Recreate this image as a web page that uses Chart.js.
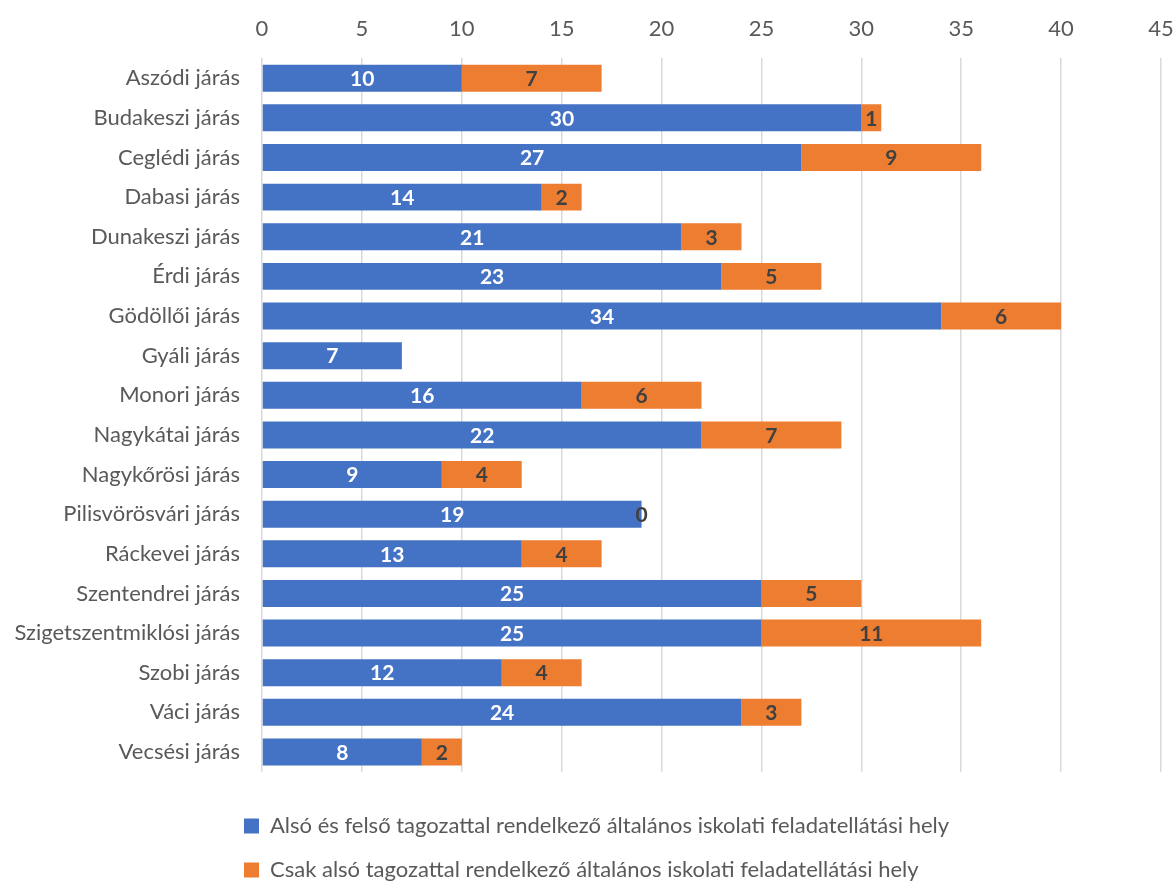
<!DOCTYPE html>
<html>
<head>
<meta charset="utf-8">
<script src="https://cdn.jsdelivr.net/npm/chart.js@4"></script>
<style>
  html, body { margin: 0; padding: 0; background: #fff; }
  #wrap { width: 1176px; height: 881px; }
</style>
</head>
<body>
<div id="wrap"><canvas id="myChart" width="1176" height="881"></canvas></div>
<script>
const jarasok = ['Aszódi járás', 'Budakeszi járás', 'Ceglédi járás', 'Dabasi járás', 'Dunakeszi járás',
  'Érdi járás', 'Gödöllői járás', 'Gyáli járás', 'Monori járás', 'Nagykátai járás', 'Nagykőrösi járás',
  'Pilisvörösvári járás', 'Ráckevei járás', 'Szentendrei járás', 'Szigetszentmiklósi járás',
  'Szobi járás', 'Váci járás', 'Vecsési járás'];
const alsoFelso = [10, 30, 27, 14, 21, 23, 34, 7, 16, 22, 9, 19, 13, 25, 25, 12, 24, 8];
const csakAlso = [7, 1, 9, 2, 3, 5, 6, null, 6, 7, 4, 0, 4, 5, 11, 4, 3, 2];
const tickek = [0, 5, 10, 15, 20, 25, 30, 35, 40, 45];

const fontCsalad = 'Lato, "Open Sans", sans-serif';

// ertekek kiirasa a savok kozepere
const cimkek = {
  id: 'cimkek',
  afterDatasetsDraw(chart) {
    const ctx = chart.ctx;
    ctx.save();
    ctx.font = 'bold 21px ' + fontCsalad;
    ctx.textAlign = 'center';
    ctx.textBaseline = 'middle';
    chart.data.datasets.forEach((ds, i) => {
      const meta = chart.getDatasetMeta(i);
      meta.data.forEach((bar, j) => {
        const v = ds.data[j];
        if (v === null || v === undefined) return;
        const x = (bar.x + bar.base) / 2;
        ctx.fillStyle = i === 0 ? '#ffffff' : '#404040';
        ctx.fillText(String(v), x, bar.y + 1);
      });
    });
    ctx.restore();
  }
};

// a jelmagyarazat sorai egy vonalban kezdodjenek
const legendBal = {
  id: 'legendBal',
  afterLayout(chart) {
    chart.legend.left = 222;
  }
};

const ctx = document.getElementById('myChart');
new Chart(ctx, {
  type: 'bar',
  data: {
    labels: jarasok,
    datasets: [{
      label: 'Alsó és felső tagozattal rendelkező általános iskolati feladatellátási hely',
      data: alsoFelso,
      backgroundColor: '#4472C4',
      barPercentage: 0.68,
      categoryPercentage: 1
    }, {
      label: 'Csak alsó tagozattal rendelkező általános iskolati feladatellátási hely',
      data: csakAlso,
      backgroundColor: '#ED7D31',
      barPercentage: 0.68,
      categoryPercentage: 1
    }]
  },
  options: {
    indexAxis: 'y',
    responsive: false,
    animation: false,
    layout: { padding: { left: 0, right: 15, top: 0, bottom: -10 } },
    scales: {
      x: {
        position: 'top',
        stacked: true,
        min: 0,
        max: 45,
        afterBuildTicks: axis => { axis.ticks = tickek.map(v => ({ value: v })); },
        afterFit: axis => { axis.paddingLeft = 0; axis.paddingRight = 0; },
        grid: { color: '#D9D9D9', lineWidth: 1.5, drawTicks: false },
        border: { display: false },
        ticks: { color: '#595959', font: { family: fontCsalad, size: 22 }, padding: 16 }
      },
      y: {
        stacked: true,
        grid: { display: false },
        border: { display: false },
        afterFit: axis => { axis.width = 262; },
        ticks: { color: '#595959', font: { family: fontCsalad, size: 22 }, padding: 14 }
      }
    },
    plugins: {
      legend: {
        position: 'bottom',
        align: 'start',
        title: { display: true, text: ' ', font: { size: 1 }, padding: 10 },
        labels: {
          color: '#595959',
          font: { family: fontCsalad, size: 22 },
          boxWidth: 15,
          boxHeight: 15,
          padding: 22
        }
      },
      tooltip: { enabled: false }
    }
  },
  plugins: [cimkek, legendBal]
});
</script>
</body>
</html>
